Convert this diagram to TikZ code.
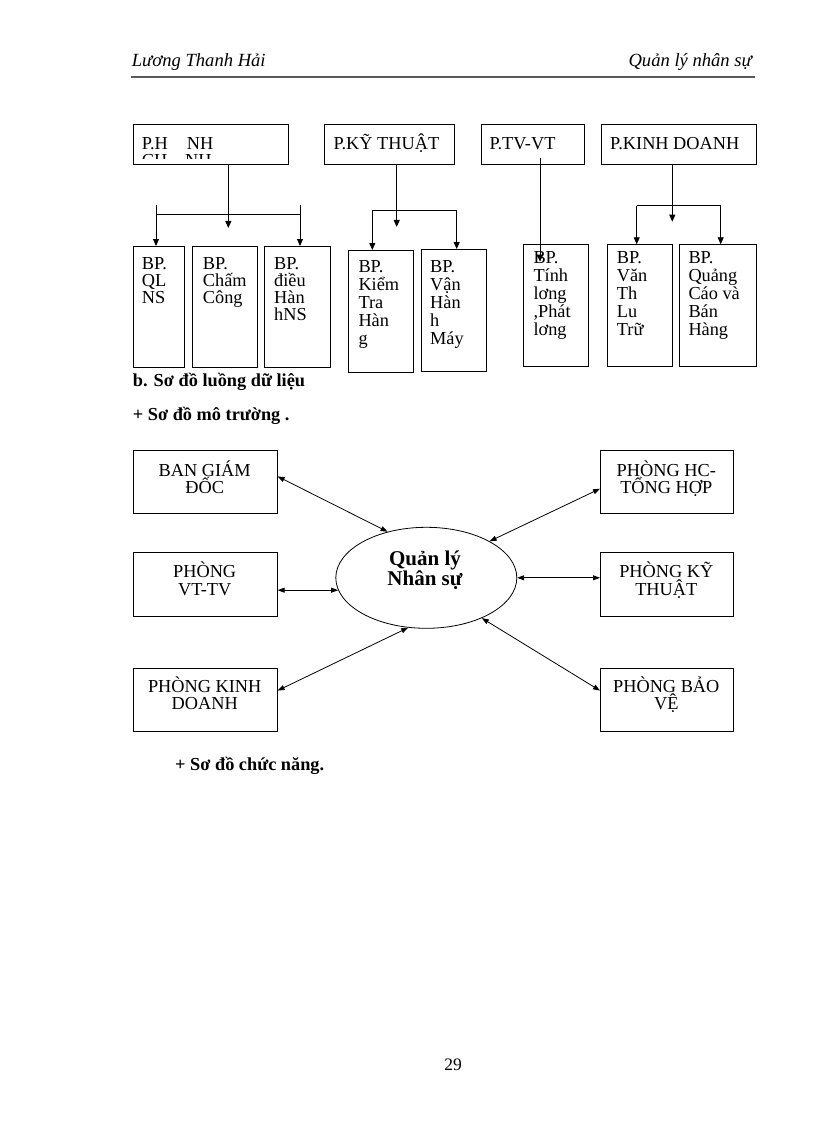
\documentclass[tikz,border=0pt]{standalone}
\usepackage{fontspec}
\setmainfont{Liberation Serif}
\usetikzlibrary{arrows.meta,shapes.geometric}
\begin{document}
\begin{tikzpicture}[x=1pt,y=-1pt,
  box/.style={draw, line width=0.9pt, inner sep=0, anchor=north west},
  txt/.style={inner sep=0, anchor=base west, font=\fontsize{18.3}{17}\selectfont},
  ctxt/.style={inner sep=0, anchor=base, font=\fontsize{18.3}{17}\selectfont},
  btxt/.style={inner sep=0, anchor=base west, font=\bfseries\fontsize{18.3}{17}\selectfont},
  hdr/.style={inner sep=0, font=\itshape\fontsize{18.6}{17}\selectfont},
  ln/.style={line width=0.9pt},
  arr/.style={line width=0.9pt, -{Triangle[length=7pt,width=6pt]}},
  darr/.style={line width=0.8pt, {Triangle[length=7pt,width=5pt]}-{Triangle[length=7pt,width=5pt]}},
]
\fill[white] (0,0) rectangle (816,1123);
\useasboundingbox (0,0) rectangle (816,1123);

% header
\node[hdr, anchor=base west] (hl) at (131.7,66.7) {Lương Thanh Hải};
\node[hdr, anchor=base east] (hr) at (752,66.7) {Quản lý nhân sự};
\coordinate (hla) at (131,76.7);
\coordinate (hlb) at (755,76.7);
\draw[line width=2pt, black!65] (hla) -- (hlb);

% top boxes
\node[box, minimum width=155.3, minimum height=40] (ph) at (132.7,124.3) {};
\node[box, minimum width=130.3, minimum height=40] (pk) at (324,124.3) {};
\node[box, minimum width=103.3, minimum height=40] (ptv) at (481,124.3) {};
\node[box, minimum width=155.3, minimum height=40] (pkd) at (600.7,124.3) {};

\node[txt] (ph1) at (141.7,150) {P.H};
\node[txt] (ph2) at (186.7,150) {NH};
\begin{scope}
  \clip (133,125) rectangle (288,158.5);
  \node[txt] (ph3) at (141.7,167) {CH};
  \node[txt] (ph4) at (185,167) {NH};
\end{scope}
\node[txt] (pkt) at (333.3,150) {P.KỸ THUẬT};
\node[txt] (ptvt) at (489.3,150) {P.TV-VT};
\node[txt] (pkdt) at (610,150) {P.KINH DOANH};

% children boxes
\node[box, minimum width=51.6, minimum height=121] (c11) at (132.7,246) {};
\node[box, minimum width=65, minimum height=121] (c12) at (192.3,246) {};
\node[box, minimum width=65.7, minimum height=121] (c13) at (264.3,246) {};
\node[box, minimum width=65, minimum height=121.7] (c21) at (348.3,250) {};
\node[box, minimum width=65, minimum height=122] (c22) at (420.7,249) {};
\node[box, minimum width=65, minimum height=121.4] (c31) at (523.3,244.3) {};
\node[box, minimum width=65, minimum height=121.4] (c41) at (607.3,244.3) {};
\node[box, minimum width=77.3, minimum height=121.4] (c42) at (678.7,244.3) {};

\foreach \t [count=\i] in {BP.,QL,NS}
  \node[txt] (t11\i) at (141.7,{269.3+(\i-1)*17}) {\t};
\foreach \t [count=\i] in {BP.,Chấm,Công}
  \node[txt] (t12\i) at (202.7,{269.3+(\i-1)*17}) {\t};
\foreach \t [count=\i] in {BP.,điều,Hàn,hNS}
  \node[txt] (t13\i) at (274,{269.3+(\i-1)*17}) {\t};
\foreach \t [count=\i] in {BP.,Kiểm,Tra,Hàn,g}
  \node[txt] (t21\i) at (358.3,{272.7+(\i-1)*18}) {\t};
\foreach \t [count=\i] in {BP.,Vận,Hàn,h,Máy}
  \node[txt] (t22\i) at (430,{272.2+(\i-1)*18}) {\t};
\foreach \t [count=\i] in {BP.,Tính,lơng,{,Phát},lơng}
  \node[txt] (t31\i) at (533.3,{263.7+(\i-1)*18}) {\t};
\foreach \t [count=\i] in {BP.,Văn,Th,Lu,Trữ}
  \node[txt] (t41\i) at (616.7,{263.7+(\i-1)*18}) {\t};
\foreach \t [count=\i] in {BP.,Quảng,Cáo và,Bán,Hàng}
  \node[txt] (t42\i) at (688.3,{263.7+(\i-1)*18}) {\t};

% group 1 connectors
\coordinate (a1) at (228.3,228);
\draw[arr] (ph.south -| a1) -- (a1);
\coordinate (h1l) at (156,214);
\coordinate (h1r) at (300,214);
\draw[ln] (h1l) -- (h1r);
\coordinate (s1l) at (156,205);
\coordinate (s1r) at (300,205);
\draw[arr] (s1l) -- (s1l |- c11.north);
\draw[arr] (s1r) -- (s1r |- c13.north);

% group 2
\coordinate (a2) at (396.7,227);
\draw[arr] (pk.south -| a2) -- (a2);
\coordinate (h2l) at (372.3,210.7);
\coordinate (h2r) at (456.7,210.7);
\draw[ln] (h2l) -- (h2r);
\draw[arr] (h2l) -- (h2l |- c21.north);
\draw[arr] (h2r) -- (h2r |- c22.north);

% group 3
\coordinate (s3) at (540,158);
\coordinate (e3) at (540,261.7);
\draw[arr] (s3) -- (e3);

% group 4
\coordinate (a4) at (672.3,221.7);
\draw[arr] (pkd.south -| a4) -- (a4);
\coordinate (h4l) at (636.7,205.7);
\coordinate (h4r) at (720.7,205.7);
\draw[ln] (h4l) -- (h4r);
\draw[arr] (h4l) -- (h4l |- c41.north);
\draw[arr] (h4r) -- (h4r |- c42.north);

% headings
\node[btxt] (hb) at (132.7,386.7) {b. Sơ đồ luồng dữ liệu};
\node[btxt] (hm) at (132.7,420) {+ Sơ đồ mô trường .};
\node[btxt] (hc) at (175,770) {+ Sơ đồ chức năng.};

% environment diagram
\node[box, minimum width=144, minimum height=63.3] (bgd) at (132.7,450) {};
\node[box, minimum width=144, minimum height=63.3] (vt) at (132.7,552.3) {};
\node[box, minimum width=144, minimum height=63.3] (kd) at (132.7,667.7) {};
\node[box, minimum width=132.7, minimum height=63.3] (hc) at (600,450) {};
\node[box, minimum width=132.7, minimum height=63.3] (kt) at (600,552.3) {};
\node[box, minimum width=132.7, minimum height=63.3] (bv) at (600,667.7) {};

\node[ctxt] (bgd1) at (204.7,476) {BAN GIÁM};
\node[ctxt] (bgd2) at (204.7,493.3) {ĐỐC};
\node[ctxt] (vt1) at (204.7,577.3) {PHÒNG};
\node[ctxt] (vt2) at (204.7,595) {VT-TV};
\node[ctxt] (kd1) at (204.7,692.3) {PHÒNG KINH};
\node[ctxt] (kd2) at (204.7,709.3) {DOANH};
\node[ctxt] (hc1) at (666.3,476) {PHÒNG HC-};
\node[ctxt] (hc2) at (666.3,493.3) {TỔNG HỢP};
\node[ctxt] (kt1) at (666.3,577.3) {PHÒNG KỸ};
\node[ctxt] (kt2) at (666.3,595) {THUẬT};
\node[ctxt] (bv1) at (666.3,692.3) {PHÒNG BẢO};
\node[ctxt] (bv2) at (666.3,709.3) {VỆ};

\node[draw, ellipse, line width=0.8pt, inner sep=0, minimum width=181, minimum height=101] (ell) at (426.3,577.8) {};
\node[inner sep=0, anchor=base, font=\bfseries\fontsize{21}{20}\selectfont] (e1) at (425,565) {Quản lý};
\node[inner sep=0, anchor=base, font=\bfseries\fontsize{21}{20}\selectfont] (e2) at (425,585.7) {Nhân sự};

\draw[darr] ([yshift=5.7pt]bgd.east) -- (ell.130);
\draw[darr] (vt.east |- ell.188) -- (ell.188);
\draw[darr] ([yshift=9.2pt]kd.east) -- (ell.250);
\draw[darr] ([yshift=-6.6pt]hc.west) -- (ell.30);
\draw[darr] (ell.east) -- (kt.west |- ell.east);
\draw[darr] ([yshift=9.2pt]bv.west) -- (ell.324);

% page number
\node[inner sep=0, anchor=base, font=\fontsize{17.5}{17}\selectfont] (pg) at (453,1070) {29};
\end{tikzpicture}
\end{document}
